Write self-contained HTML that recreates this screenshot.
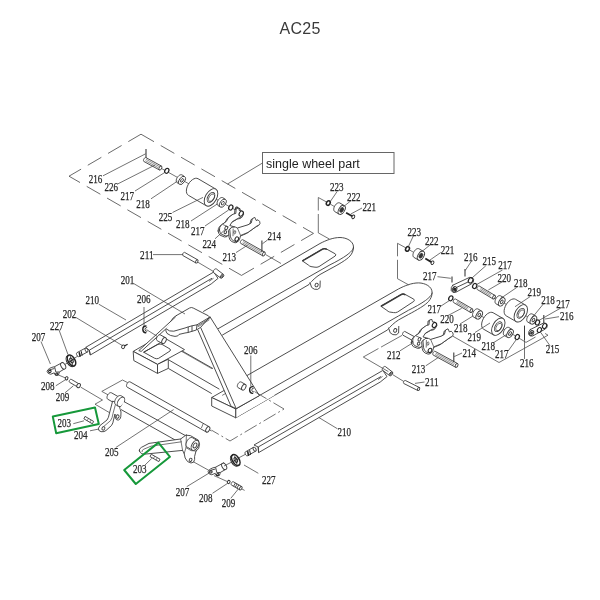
<!DOCTYPE html>
<html><head><meta charset="utf-8"><title>AC25</title>
<style>
html,body{margin:0;padding:0;background:#fff;}
body{width:600px;height:600px;overflow:hidden;position:relative;font-family:"Liberation Sans",sans-serif;}
.title{position:absolute;left:0;top:16px;width:600px;text-align:center;font-size:16px;line-height:20px;color:#333;letter-spacing:0.2px;}
svg{position:absolute;left:0;top:0;will-change:transform;}
svg text{font-family:"Liberation Serif",serif;}
svg text.s{font-family:"Liberation Sans",sans-serif;}
</style></head><body>
<svg width="600" height="600" viewBox="0 0 600 600">
<text class="s" x="300" y="34" font-size="16" text-anchor="middle" fill="#3a3a3a" textLength="41" lengthAdjust="spacing">AC25</text>
<polygon points="85.8,347.3 213.75,272 218,278.4 211.25,283.9 90.3,355 89.3,350.2" fill="#fff" stroke="#3a3a3a" stroke-width="0.9" stroke-linejoin="round"/>
<line x1="89.3" y1="350.2" x2="212" y2="278.23" stroke="#3a3a3a" stroke-width="0.9"/>
<line x1="89.3" y1="350.2" x2="90.3" y2="355" stroke="#3a3a3a" stroke-width="0.9"/>
<line x1="209" y1="281.4" x2="213.6" y2="278.2" stroke="#3a3a3a" stroke-width="0.7"/>
<polyline points="223.4,274.38 216.4,268.98 216.13,268.84 215.81,268.81 215.44,268.87 215.05,269.03 214.66,269.28 214.28,269.6 213.94,269.99 213.66,270.41 213.44,270.86 213.3,271.3 213.24,271.72 213.28,272.09 213.4,272.39 213.6,272.62 220.6,278.02" fill="#fff" stroke="#3a3a3a" stroke-width="0.9" stroke-linejoin="round"/>
<ellipse cx="222" cy="276.2" rx="1.33" ry="2.3" fill="#fff" stroke="#3a3a3a" stroke-width="0.9" transform="rotate(37.65 222 276.2)"/>
<ellipse cx="222" cy="276.2" rx="0.7" ry="1.2" fill="#fff" stroke="#3a3a3a" stroke-width="0.9" transform="rotate(37.65 222 276.2)"/>
<line x1="197.5" y1="262" x2="214" y2="271.8" stroke="#444" stroke-width="0.75"/>
<polyline points="197.69,259.84 184.69,252.44 184.47,252.36 184.21,252.37 183.93,252.45 183.65,252.62 183.37,252.86 183.11,253.15 182.89,253.48 182.72,253.84 182.6,254.21 182.54,254.57 182.54,254.9 182.6,255.19 182.73,255.41 182.91,255.56 195.91,262.96" fill="#fff" stroke="#3a3a3a" stroke-width="0.9" stroke-linejoin="round"/>
<ellipse cx="196.8" cy="261.4" rx="1.04" ry="1.8" fill="#fff" stroke="#3a3a3a" stroke-width="0.9" transform="rotate(29.65 196.8 261.4)"/>
<polyline points="85.45,348.07 76.95,352.67 76.73,352.85 76.57,353.12 76.48,353.47 76.47,353.87 76.53,354.31 76.67,354.76 76.88,355.21 77.14,355.62 77.44,355.99 77.78,356.28 78.12,356.49 78.46,356.61 78.77,356.62 79.05,356.53 87.55,351.93" fill="#fff" stroke="#3a3a3a" stroke-width="0.9" stroke-linejoin="round"/>
<ellipse cx="86.5" cy="350" rx="1.28" ry="2.2" fill="#fff" stroke="#3a3a3a" stroke-width="0.9" transform="rotate(-28.42 86.5 350)"/>
<line x1="79.2" y1="352.2" x2="80.2" y2="356.6" stroke="#222" stroke-width="1.6"/>
<line x1="81.2" y1="351.2" x2="82.2" y2="355.6" stroke="#222" stroke-width="1.0"/>
<polygon points="254,445 382.9,370.4 387,376.6 380.25,382 258.6,452.6 258.2,447" fill="#fff" stroke="#3a3a3a" stroke-width="0.9" stroke-linejoin="round"/>
<line x1="258.2" y1="447" x2="381" y2="376.52" stroke="#3a3a3a" stroke-width="0.9"/>
<line x1="258.2" y1="447" x2="258.6" y2="452.6" stroke="#3a3a3a" stroke-width="0.9"/>
<line x1="378" y1="379.6" x2="382.6" y2="376.4" stroke="#3a3a3a" stroke-width="0.7"/>
<polyline points="392.4,371.98 385.4,366.58 385.13,366.44 384.81,366.41 384.44,366.47 384.05,366.63 383.66,366.88 383.28,367.2 382.94,367.59 382.66,368.01 382.44,368.46 382.3,368.9 382.24,369.32 382.28,369.69 382.4,369.99 382.6,370.22 389.6,375.62" fill="#fff" stroke="#3a3a3a" stroke-width="0.9" stroke-linejoin="round"/>
<ellipse cx="391" cy="373.8" rx="1.33" ry="2.3" fill="#fff" stroke="#3a3a3a" stroke-width="0.9" transform="rotate(37.65 391 373.8)"/>
<ellipse cx="391" cy="373.8" rx="0.7" ry="1.2" fill="#fff" stroke="#3a3a3a" stroke-width="0.9" transform="rotate(37.65 391 373.8)"/>
<polyline points="253.51,447.29 245.41,451.89 245.19,452.08 245.04,452.35 244.96,452.7 244.96,453.1 245.03,453.54 245.18,453.99 245.39,454.43 245.66,454.84 245.97,455.2 246.31,455.49 246.66,455.69 247,455.8 247.31,455.81 247.59,455.71 255.69,451.11" fill="#fff" stroke="#3a3a3a" stroke-width="0.9" stroke-linejoin="round"/>
<ellipse cx="254.6" cy="449.2" rx="1.28" ry="2.2" fill="#fff" stroke="#3a3a3a" stroke-width="0.9" transform="rotate(-29.59 254.6 449.2)"/>
<line x1="247.6" y1="451.2" x2="248.6" y2="455.8" stroke="#222" stroke-width="1.6"/>
<line x1="249.6" y1="450.2" x2="250.6" y2="454.8" stroke="#222" stroke-width="1.0"/>
<g transform="translate(0,0)">
<path d="M203.5,311.4 L320,243.5 C326,240.4 333,237.5 340,237.5 C346.5,237.6 353.4,241 353.5,247 C353.4,250 350,252.6 347,255 C343,258 335,262.4 330,264.8 L320,270.5 L218.3,328.6" fill="#fff" stroke="#3a3a3a" stroke-width="0.9" stroke-linejoin="round" stroke-linecap="round"/>
<path d="M353.5,247.5 C353.4,251 352,253.6 350,256 C347,259.6 338,264.8 330,269 L320,274.5 C316,277 312,280.6 309,284.5 L222.5,335" fill="none" stroke="#3a3a3a" stroke-width="0.9" stroke-linejoin="round" stroke-linecap="round"/>
<path d="M302.6,260.6 L322.5,249 Q324.5,248 326.5,249 L335.2,253.8 Q336.4,254.8 335.2,256 L319,266.6 Q317,267.6 315,267.2 L311,266.6 Q309.5,266.2 308.5,265.2 Z" fill="#fff" stroke="#3a3a3a" stroke-width="0.9" stroke-linejoin="round" stroke-linecap="round"/>
<path d="M302.9,260.6 L322.6,249.2 Q324.5,248.2 326.3,249.2" fill="none" stroke="#3a3a3a" stroke-width="1.5" stroke-linejoin="round" stroke-linecap="round"/>
<path d="M310,282.6 L311.6,287.4 Q314,290 317.6,289.4 L320,287.6 L320.2,281" fill="#fff" stroke="#3a3a3a" stroke-width="0.9" stroke-linejoin="round" stroke-linecap="round"/>
<ellipse cx="316.6" cy="285" rx="1.5" ry="1.9" fill="none" stroke="#3a3a3a" stroke-width="0.9" transform="rotate(30 316.6 285)"/>
</g>
<g transform="translate(78.6,45.4)">
<path d="M166.9,331 L320,243.5 C326,240.4 333,237.5 340,237.5 C346.5,237.6 353.4,241 353.5,247 C353.4,250 350,252.6 347,255 C343,258 335,262.4 330,264.8 L320,270.5 L181,350" fill="#fff" stroke="#3a3a3a" stroke-width="0.9" stroke-linejoin="round" stroke-linecap="round"/>
<path d="M353.5,247.5 C353.4,251 352,253.6 350,256 C347,259.6 338,264.8 330,269 L320,274.5 C316,277 312,280.6 309,284.5 L157.2,372.4" fill="none" stroke="#3a3a3a" stroke-width="0.9" stroke-linejoin="round" stroke-linecap="round"/>
<path d="M302.6,260.6 L322.5,249 Q324.5,248 326.5,249 L335.2,253.8 Q336.4,254.8 335.2,256 L319,266.6 Q317,267.6 315,267.2 L311,266.6 Q309.5,266.2 308.5,265.2 Z" fill="#fff" stroke="#3a3a3a" stroke-width="0.9" stroke-linejoin="round" stroke-linecap="round"/>
<path d="M302.9,260.6 L322.6,249.2 Q324.5,248.2 326.3,249.2" fill="none" stroke="#3a3a3a" stroke-width="1.5" stroke-linejoin="round" stroke-linecap="round"/>
<path d="M310,282.6 L311.6,287.4 Q314,290 317.6,289.4 L320,287.6 L320.2,281" fill="#fff" stroke="#3a3a3a" stroke-width="0.9" stroke-linejoin="round" stroke-linecap="round"/>
<ellipse cx="316.6" cy="285" rx="1.5" ry="1.9" fill="none" stroke="#3a3a3a" stroke-width="0.9" transform="rotate(30 316.6 285)"/>
</g>
<line x1="166.5" y1="342" x2="213" y2="368.6" stroke="#3a3a3a" stroke-width="0.9"/>
<line x1="168.3" y1="343.8" x2="212" y2="368.8" stroke="#3a3a3a" stroke-width="0.6"/>
<line x1="168.5" y1="359.8" x2="219.4" y2="389.2" stroke="#3a3a3a" stroke-width="0.9"/>
<line x1="168.3" y1="368.4" x2="211.7" y2="393.6" stroke="#3a3a3a" stroke-width="0.9"/>
<polygon points="133.2,351.4 160.5,335.6 184.5,349.6 157.5,364.4" fill="#fff" stroke="#3a3a3a" stroke-width="0.9" stroke-linejoin="round"/>
<polygon points="133.2,351.4 157.5,364.4 157.5,373.4 133.8,360.6" fill="#fff" stroke="#3a3a3a" stroke-width="0.9" stroke-linejoin="round"/>
<polygon points="157.5,364.4 168.3,359.2 168.3,368.4 157.5,373.4" fill="#fff" stroke="#3a3a3a" stroke-width="0.9" stroke-linejoin="round"/>
<path d="M144,352 L158,344.4 Q160,343.6 162,344.4 L170,349 Q171,350 170,351 L158.5,358.4 Q156.8,359.2 155,358.4 Z" fill="#fff" stroke="#3a3a3a" stroke-width="0.9" stroke-linejoin="round" stroke-linecap="round"/>
<polygon points="211.7,397.5 235.8,383.8 260,395.6 235.8,409" fill="#fff" stroke="#3a3a3a" stroke-width="0.9" stroke-linejoin="round"/>
<polygon points="211.7,397.5 235.8,409 235.8,417.8 211.7,406" fill="#fff" stroke="#3a3a3a" stroke-width="0.9" stroke-linejoin="round"/>
<polygon points="235.8,409 259.6,395.4 275,395 235.8,417.8" fill="#fff" stroke="#3a3a3a" stroke-width="0" stroke-linejoin="round"/>
<line x1="235.8" y1="409" x2="259.6" y2="395.4" stroke="#3a3a3a" stroke-width="0.9"/>
<line x1="235.8" y1="409" x2="235.8" y2="417.8" stroke="#3a3a3a" stroke-width="0.9"/>
<path d="M222.5,395.2 L226.4,393 L231.6,403.6" fill="none" stroke="#3a3a3a" stroke-width="0.7" stroke-linejoin="round" stroke-linecap="round"/>
<polygon points="210,316.8 259.4,395.6 236.2,408.6 231,406.2 197.5,329.2 200.6,327.4" fill="#fff" stroke="#3a3a3a" stroke-width="0.9" stroke-linejoin="round"/>
<line x1="200.6" y1="327.4" x2="236.2" y2="408.6" stroke="#3a3a3a" stroke-width="0.9"/>
<polyline points="245.39,384.42 241.19,382.02 240.79,381.89 240.33,381.9 239.84,382.05 239.33,382.35 238.84,382.76 238.38,383.28 237.99,383.88 237.68,384.52 237.46,385.18 237.35,385.81 237.35,386.4 237.47,386.9 237.69,387.3 238.01,387.58 242.21,389.98" fill="#fff" stroke="#3a3a3a" stroke-width="0.9" stroke-linejoin="round"/>
<ellipse cx="243.8" cy="387.2" rx="1.86" ry="3.2" fill="#fff" stroke="#3a3a3a" stroke-width="0.9" transform="rotate(29.74 243.8 387.2)"/>
<path d="M176.3,315.6 L189.6,308 Q191.4,307 193.2,308 L208.4,315.8 Q210,316.8 208.6,317.8 L197,324.8 L196.4,330 L188,332.5 L185,333 L179,334.4 Q178.5,336.4 175,336.4 Q170,336 167,333.4 Q165,331 166.3,328 L171,321 Q173,317 176.3,315.6 Z" fill="#fff" stroke="#3a3a3a" stroke-width="0.9" stroke-linejoin="round" stroke-linecap="round"/>
<line x1="209.6" y1="318.4" x2="197.4" y2="326" stroke="#3a3a3a" stroke-width="0.7"/>
<line x1="209.4" y1="319.8" x2="198" y2="326.8" stroke="#3a3a3a" stroke-width="0.6"/>
<line x1="210" y1="316.8" x2="210" y2="318.4" stroke="#3a3a3a" stroke-width="0.7"/>
<path d="M166.9,329.4 Q169,331.6 173.8,331.2 L185,328 L188.2,326.9 L192,325.8 L197,324.8" fill="none" stroke="#3a3a3a" stroke-width="0.9" stroke-linejoin="round" stroke-linecap="round"/>
<line x1="188.2" y1="326.9" x2="188.2" y2="332.5" stroke="#3a3a3a" stroke-width="0.9"/>
<line x1="192" y1="325.8" x2="192" y2="331.4" stroke="#3a3a3a" stroke-width="0.9"/>
<polyline points="175.6,316.9 138.8,350.6 141.2,351.4 166.4,328.4" fill="#fff" stroke="#3a3a3a" stroke-width="0.9" stroke-linejoin="round"/>
<polyline points="165.56,337.69 160.36,334.89 159.95,334.77 159.48,334.79 158.97,334.96 158.46,335.28 157.96,335.72 157.51,336.27 157.11,336.89 156.81,337.56 156.6,338.24 156.51,338.9 156.53,339.51 156.66,340.02 156.9,340.43 157.24,340.71 162.44,343.51" fill="#fff" stroke="#3a3a3a" stroke-width="0.9" stroke-linejoin="round"/>
<ellipse cx="164" cy="340.6" rx="1.91" ry="3.3" fill="#fff" stroke="#3a3a3a" stroke-width="0.9" transform="rotate(28.3 164 340.6)"/>
<line x1="160.5" y1="342.6" x2="143.5" y2="352.4" stroke="#3a3a3a" stroke-width="0.9"/>
<line x1="146.5" y1="329.6" x2="157" y2="336.2" stroke="#444" stroke-width="0.75"/>
<path d="M146,326 Q142.8,326 142.8,329.4 Q143,332.6 145.8,332.8" fill="none" stroke="#222" stroke-width="1.4" stroke-linejoin="round" stroke-linecap="round"/>
<path d="M146.8,327.4 Q144.8,327.6 145,329.6 Q145.2,331.4 146.8,331.4" fill="none" stroke="#222" stroke-width="0.8" stroke-linejoin="round" stroke-linecap="round"/>
<line x1="144" y1="307" x2="144" y2="326" stroke="#444" stroke-width="0.75"/>
<path d="M252.8,386.6 Q249.6,386.6 249.6,390 Q249.8,393.2 252.6,393.4" fill="none" stroke="#222" stroke-width="1.4" stroke-linejoin="round" stroke-linecap="round"/>
<path d="M253.6,388 Q251.6,388.2 251.8,390.2 Q252,392 253.6,392" fill="none" stroke="#222" stroke-width="0.8" stroke-linejoin="round" stroke-linecap="round"/>
<line x1="250.8" y1="355.5" x2="250.8" y2="386" stroke="#444" stroke-width="0.75"/>
<polyline points="254.5,391.6 284,409 230,441 211.6,430.2" fill="none" stroke="#444" stroke-width="0.75" stroke-linejoin="round" stroke-dasharray="14 3 2 3"/>
<ellipse cx="123.2" cy="346.8" rx="1.5" ry="1.9" fill="#fff" stroke="#3a3a3a" stroke-width="0.9" transform="rotate(30 123.2 346.8)"/>
<line x1="124.4" y1="346" x2="127.6" y2="344.2" stroke="#222" stroke-width="1.2"/>
<line x1="318.3" y1="197.5" x2="327.5" y2="202.5" stroke="#444" stroke-width="0.75"/>
<line x1="318.3" y1="197.5" x2="318.3" y2="210.5" stroke="#444" stroke-width="0.75"/>
<line x1="318.3" y1="214" x2="318.3" y2="232.9" stroke="#444" stroke-width="0.75"/>
<line x1="318.3" y1="232.9" x2="329.5" y2="239.1" stroke="#444" stroke-width="0.75"/>
<ellipse cx="328.3" cy="203.1" rx="1.78" ry="2.4" fill="#fff" stroke="#222" stroke-width="1.5" transform="rotate(30 328.3 203.1)"/>
<line x1="330.3" y1="204.1" x2="334.3" y2="206.5" stroke="#444" stroke-width="0.75"/>
<polyline points="344.24,205.6 339.84,203 339.22,202.78 338.51,202.78 337.73,203.01 336.93,203.46 336.15,204.1 335.43,204.9 334.8,205.82 334.3,206.82 333.95,207.84 333.76,208.83 333.75,209.75 333.92,210.54 334.26,211.17 334.76,211.6 339.16,214.2" fill="#fff" stroke="#3a3a3a" stroke-width="0.9" stroke-linejoin="round"/>
<ellipse cx="341.7" cy="209.9" rx="2.9" ry="5" fill="#fff" stroke="#3a3a3a" stroke-width="0.9" transform="rotate(30.58 341.7 209.9)"/>
<ellipse cx="341.7" cy="209.9" rx="1.6" ry="2.6" fill="#333" stroke="#3a3a3a" stroke-width="0.8" transform="rotate(30 341.7 209.9)"/>
<line x1="346.1" y1="212.7" x2="352.3" y2="216.3" stroke="#222" stroke-width="1.8"/>
<ellipse cx="353.3" cy="216.9" rx="1.3" ry="1.9" fill="#fff" stroke="#222" stroke-width="0.9" transform="rotate(30 353.3 216.9)"/>
<line x1="397.5" y1="243.3" x2="406.7" y2="248.3" stroke="#444" stroke-width="0.75"/>
<line x1="397.5" y1="243.3" x2="397.5" y2="256.3" stroke="#444" stroke-width="0.75"/>
<line x1="397.5" y1="259.8" x2="397.5" y2="278.7" stroke="#444" stroke-width="0.75"/>
<line x1="397.5" y1="278.7" x2="408.7" y2="284.9" stroke="#444" stroke-width="0.75"/>
<ellipse cx="407.5" cy="248.9" rx="1.78" ry="2.4" fill="#fff" stroke="#222" stroke-width="1.5" transform="rotate(30 407.5 248.9)"/>
<line x1="409.5" y1="249.9" x2="413.5" y2="252.3" stroke="#444" stroke-width="0.75"/>
<polyline points="423.44,251.4 419.04,248.8 418.42,248.58 417.71,248.58 416.93,248.81 416.13,249.26 415.35,249.9 414.63,250.7 414,251.62 413.5,252.62 413.15,253.64 412.96,254.63 412.95,255.55 413.12,256.34 413.46,256.97 413.96,257.4 418.36,260" fill="#fff" stroke="#3a3a3a" stroke-width="0.9" stroke-linejoin="round"/>
<ellipse cx="420.9" cy="255.7" rx="2.9" ry="5" fill="#fff" stroke="#3a3a3a" stroke-width="0.9" transform="rotate(30.58 420.9 255.7)"/>
<ellipse cx="420.9" cy="255.7" rx="1.6" ry="2.6" fill="#333" stroke="#3a3a3a" stroke-width="0.8" transform="rotate(30 420.9 255.7)"/>
<line x1="425.3" y1="258.5" x2="431.5" y2="262.1" stroke="#222" stroke-width="1.8"/>
<ellipse cx="432.5" cy="262.7" rx="1.3" ry="1.9" fill="#fff" stroke="#222" stroke-width="0.9" transform="rotate(30 432.5 262.7)"/>
<polyline points="452.5,336 499,362.5 548,335.2 543.5,332.5" fill="none" stroke="#444" stroke-width="0.75" stroke-linejoin="round" stroke-dasharray="83 0 30 3 200"/>
<polyline points="518.5,337.8 526,342.4 535.5,337" fill="none" stroke="#444" stroke-width="0.75" stroke-linejoin="round"/>
<line x1="476" y1="286.8" x2="538" y2="322.8" stroke="#444" stroke-width="0.75"/>
<ellipse cx="474.7" cy="286" rx="1.92" ry="2.6" fill="#fff" stroke="#222" stroke-width="1.2" transform="rotate(30 474.7 286)"/>
<polyline points="495.03,295.48 479.33,286.08 479.08,285.99 478.79,286 478.48,286.09 478.16,286.26 477.85,286.52 477.56,286.84 477.3,287.2 477.1,287.6 476.96,288.01 476.88,288.4 476.88,288.77 476.94,289.09 477.08,289.34 477.27,289.52 492.97,298.92" fill="#fff" stroke="#3a3a3a" stroke-width="0.9" stroke-linejoin="round"/>
<ellipse cx="494" cy="297.2" rx="1.16" ry="2" fill="#fff" stroke="#3a3a3a" stroke-width="0.9" transform="rotate(30.91 494 297.2)"/>
<line x1="480.54" y1="288.33" x2="491.22" y2="294.72" stroke="#3a3a3a" stroke-width="0.55"/>
<line x1="479.82" y1="289.53" x2="490.5" y2="295.92" stroke="#3a3a3a" stroke-width="0.55"/>
<polyline points="504.03,297.82 500.57,295.82 500,295.62 499.34,295.63 498.63,295.85 497.9,296.27 497.18,296.87 496.53,297.61 495.96,298.47 495.5,299.39 495.19,300.33 495.03,301.24 495.03,302.08 495.19,302.81 495.51,303.39 495.97,303.78 499.43,305.78" fill="#fff" stroke="#3a3a3a" stroke-width="0.9" stroke-linejoin="round"/>
<ellipse cx="501.73" cy="301.8" rx="2.67" ry="4.6" fill="#fff" stroke="#3a3a3a" stroke-width="0.9" transform="rotate(30 501.73 301.8)"/>
<ellipse cx="501.73" cy="301.8" rx="1.16" ry="2" fill="#fff" stroke="#3a3a3a" stroke-width="0.9" transform="rotate(30 501.73 301.8)"/>
<polyline points="525.55,305.07 515.59,299.32 514.41,298.92 513.05,298.94 511.58,299.4 510.07,300.27 508.6,301.5 507.25,303.03 506.07,304.79 505.13,306.69 504.48,308.64 504.15,310.53 504.15,312.26 504.49,313.77 505.15,314.96 506.09,315.78 516.05,321.53" fill="#fff" stroke="#3a3a3a" stroke-width="0.9" stroke-linejoin="round"/>
<ellipse cx="520.8" cy="313.3" rx="5.51" ry="9.5" fill="#fff" stroke="#3a3a3a" stroke-width="0.9" transform="rotate(30 520.8 313.3)"/>
<ellipse cx="520.8" cy="313.3" rx="3.13" ry="5.4" fill="#fff" stroke="#3a3a3a" stroke-width="0.9" transform="rotate(30 520.8 313.3)"/>
<ellipse cx="521.3" cy="313.6" rx="2.38" ry="4.1" fill="none" stroke="#3a3a3a" stroke-width="0.7" transform="rotate(30 521.3 313.6)"/>
<polyline points="535.73,316.02 532.27,314.02 531.7,313.82 531.04,313.83 530.33,314.05 529.6,314.47 528.88,315.07 528.23,315.81 527.66,316.67 527.2,317.59 526.89,318.53 526.73,319.44 526.73,320.28 526.89,321.01 527.21,321.59 527.67,321.98 531.13,323.98" fill="#fff" stroke="#3a3a3a" stroke-width="0.9" stroke-linejoin="round"/>
<ellipse cx="533.43" cy="320" rx="2.67" ry="4.6" fill="#fff" stroke="#3a3a3a" stroke-width="0.9" transform="rotate(30 533.43 320)"/>
<ellipse cx="533.43" cy="320" rx="1.16" ry="2" fill="#fff" stroke="#3a3a3a" stroke-width="0.9" transform="rotate(30 533.43 320)"/>
<ellipse cx="537.5" cy="322.5" rx="1.92" ry="2.6" fill="#fff" stroke="#222" stroke-width="1.2" transform="rotate(30 537.5 322.5)"/>
<line x1="452" y1="299" x2="518" y2="337.4" stroke="#444" stroke-width="0.75"/>
<ellipse cx="450.8" cy="298.3" rx="1.92" ry="2.6" fill="#fff" stroke="#222" stroke-width="1.2" transform="rotate(30 450.8 298.3)"/>
<polyline points="472.41,308.87 455.61,299.07 455.36,298.99 455.07,298.99 454.76,299.08 454.44,299.27 454.13,299.52 453.85,299.85 453.6,300.22 453.4,300.61 453.26,301.02 453.19,301.42 453.19,301.79 453.26,302.1 453.39,302.35 453.59,302.53 470.39,312.33" fill="#fff" stroke="#3a3a3a" stroke-width="0.9" stroke-linejoin="round"/>
<ellipse cx="471.4" cy="310.6" rx="1.16" ry="2" fill="#fff" stroke="#3a3a3a" stroke-width="0.9" transform="rotate(30.26 471.4 310.6)"/>
<line x1="456.97" y1="301.37" x2="468.39" y2="308.04" stroke="#3a3a3a" stroke-width="0.55"/>
<line x1="456.26" y1="302.58" x2="467.69" y2="309.24" stroke="#3a3a3a" stroke-width="0.55"/>
<polyline points="481.53,311.02 478.07,309.02 477.5,308.82 476.84,308.83 476.13,309.05 475.4,309.47 474.68,310.07 474.03,310.81 473.46,311.67 473,312.59 472.69,313.53 472.53,314.44 472.53,315.28 472.69,316.01 473.01,316.59 473.47,316.98 476.93,318.98" fill="#fff" stroke="#3a3a3a" stroke-width="0.9" stroke-linejoin="round"/>
<ellipse cx="479.23" cy="315" rx="2.67" ry="4.6" fill="#fff" stroke="#3a3a3a" stroke-width="0.9" transform="rotate(30 479.23 315)"/>
<ellipse cx="479.23" cy="315" rx="1.16" ry="2" fill="#fff" stroke="#3a3a3a" stroke-width="0.9" transform="rotate(30 479.23 315)"/>
<polyline points="503.05,318.47 493.09,312.72 491.91,312.32 490.55,312.34 489.08,312.8 487.57,313.67 486.1,314.9 484.75,316.43 483.57,318.19 482.63,320.09 481.98,322.04 481.65,323.93 481.65,325.66 481.99,327.17 482.65,328.36 483.59,329.18 493.55,334.93" fill="#fff" stroke="#3a3a3a" stroke-width="0.9" stroke-linejoin="round"/>
<ellipse cx="498.3" cy="326.7" rx="5.51" ry="9.5" fill="#fff" stroke="#3a3a3a" stroke-width="0.9" transform="rotate(30 498.3 326.7)"/>
<ellipse cx="498.3" cy="326.7" rx="3.13" ry="5.4" fill="#fff" stroke="#3a3a3a" stroke-width="0.9" transform="rotate(30 498.3 326.7)"/>
<ellipse cx="498.8" cy="327" rx="2.38" ry="4.1" fill="none" stroke="#3a3a3a" stroke-width="0.7" transform="rotate(30 498.8 327)"/>
<polyline points="512.33,329.52 508.87,327.52 508.3,327.32 507.64,327.33 506.93,327.55 506.2,327.97 505.48,328.57 504.83,329.31 504.26,330.17 503.8,331.09 503.49,332.03 503.33,332.94 503.33,333.78 503.49,334.51 503.81,335.09 504.27,335.48 507.73,337.48" fill="#fff" stroke="#3a3a3a" stroke-width="0.9" stroke-linejoin="round"/>
<ellipse cx="510.03" cy="333.5" rx="2.67" ry="4.6" fill="#fff" stroke="#3a3a3a" stroke-width="0.9" transform="rotate(30 510.03 333.5)"/>
<ellipse cx="510.03" cy="333.5" rx="1.16" ry="2" fill="#fff" stroke="#3a3a3a" stroke-width="0.9" transform="rotate(30 510.03 333.5)"/>
<ellipse cx="517.3" cy="337" rx="1.92" ry="2.6" fill="#fff" stroke="#222" stroke-width="1.2" transform="rotate(30 517.3 337)"/>
<path d="M452.8,285.2 L469.5,277.4 Q472.5,276.8 473.6,279.4 Q474,282.4 471.6,283.8 L455.6,292.4 Q452.4,293.4 451.2,290.4 Q450.6,287 452.8,285.2 Z" fill="#fff" stroke="#3a3a3a" stroke-width="0.9" stroke-linejoin="round" stroke-linecap="round"/>
<ellipse cx="454.6" cy="289.2" rx="2.1" ry="2.8" fill="#fff" stroke="#3a3a3a" stroke-width="0.9" transform="rotate(30 454.6 289.2)"/>
<ellipse cx="454.6" cy="289.2" rx="0.9" ry="1.3" fill="#333" stroke="#3a3a3a" stroke-width="0.9" transform="rotate(30 454.6 289.2)"/>
<ellipse cx="470.6" cy="280.4" rx="2.1" ry="2.8" fill="#fff" stroke="#222" stroke-width="1.1" transform="rotate(30 470.6 280.4)"/>
<line x1="457" y1="287.2" x2="468" y2="282" stroke="#3a3a3a" stroke-width="0.9"/>
<line x1="453.4" y1="287.4" x2="456.4" y2="291.4" stroke="#222" stroke-width="1.1"/>
<line x1="452.6" y1="290.6" x2="456.8" y2="287.6" stroke="#222" stroke-width="0.9"/>
<path d="M530.2,329.6 L543.6,323 Q546.4,322.6 547.2,325 Q547.6,327.6 545.4,329 L532.6,336 Q529.6,336.8 528.6,334.2 Q528.2,331.2 530.2,329.6 Z" fill="#fff" stroke="#3a3a3a" stroke-width="0.9" stroke-linejoin="round" stroke-linecap="round"/>
<ellipse cx="531.6" cy="333" rx="1.9" ry="2.6" fill="#fff" stroke="#3a3a3a" stroke-width="0.9" transform="rotate(30 531.6 333)"/>
<ellipse cx="531.6" cy="333" rx="0.8" ry="1.2" fill="#333" stroke="#3a3a3a" stroke-width="0.9" transform="rotate(30 531.6 333)"/>
<ellipse cx="539.4" cy="330" rx="1.9" ry="2.6" fill="#fff" stroke="#222" stroke-width="1.1" transform="rotate(30 539.4 330)"/>
<ellipse cx="544.6" cy="326" rx="1.9" ry="2.6" fill="#fff" stroke="#222" stroke-width="1.1" transform="rotate(30 544.6 326)"/>
<line x1="465" y1="269" x2="465" y2="276.4" stroke="#3a3a3a" stroke-width="1.1"/>
<line x1="543.8" y1="315" x2="543.8" y2="323.4" stroke="#3a3a3a" stroke-width="1.1"/>
<line x1="524.5" y1="325.6" x2="524.5" y2="340" stroke="#3a3a3a" stroke-width="1.0"/>
<line x1="452" y1="276.6" x2="452" y2="282.6" stroke="#3a3a3a" stroke-width="1.1"/>
<polyline points="415.61,337.36 405.01,331.56 404.74,331.47 404.44,331.49 404.12,331.6 403.79,331.79 403.47,332.07 403.18,332.42 402.93,332.82 402.73,333.24 402.6,333.67 402.54,334.09 402.55,334.48 402.63,334.81 402.78,335.07 402.99,335.24 413.59,341.04" fill="#fff" stroke="#3a3a3a" stroke-width="0.9" stroke-linejoin="round"/>
<g transform="translate(-1.3,1)">
<path d="M412.6,341.4 Q412.4,338.4 414.4,336.6 L415.6,335.6 L419.4,333 L421.9,328.8 L426.2,325.6 L429,324.8 L429.4,320 L431.9,319.4 L432.5,321.9 Q436.6,321.6 436.9,325.6 L435,328.8 L431.9,329.4 L425.6,333 L423,336.9 L428,338.4 L423.4,340.6 L423,345 Q421.8,347.8 419,347.4 L414.6,345.6 Q412.8,344 412.6,341.4 Z" fill="#fff" stroke="#3a3a3a" stroke-width="0.9" stroke-linejoin="round" stroke-linecap="round"/>
</g>
<path d="M412.6,341.4 Q412.4,338.4 414.4,336.6 L415.6,335.6 L419.4,333 L421.9,328.8 L426.2,325.6 L429,324.8 L429.4,320 L431.9,319.4 L432.5,321.9 Q436.6,321.6 436.9,325.6 L435,328.8 L431.9,329.4 L425.6,333 L423,336.9 L428,338.4 L423.4,340.6 L423,345 Q421.8,347.8 419,347.4 L414.6,345.6 Q412.8,344 412.6,341.4 Z" fill="#fff" stroke="#3a3a3a" stroke-width="0.9" stroke-linejoin="round" stroke-linecap="round"/>
<ellipse cx="434.4" cy="325" rx="1.9" ry="2.7" fill="#fff" stroke="#222" stroke-width="1.1" transform="rotate(30 434.4 325)"/>
<ellipse cx="419.4" cy="339.4" rx="1.3" ry="1.8" fill="none" stroke="#3a3a3a" stroke-width="0.9" transform="rotate(30 419.4 339.4)"/>
<ellipse cx="418.6" cy="343.6" rx="1.2" ry="1.6" fill="none" stroke="#3a3a3a" stroke-width="0.9" transform="rotate(30 418.6 343.6)"/>
<line x1="415.8" y1="335.8" x2="422" y2="338.6" stroke="#3a3a3a" stroke-width="0.7"/>
<g transform="translate(-1.3,1)">
<path d="M423.2,340.6 L425,338.6 L428.4,338.4 L430.6,339.4 L441.2,336.2 L444.4,334.4 L445.6,330 L448,328.8 L449.4,331.9 L451.2,331.2 Q453.4,332.6 453.2,334.8 L452.5,336.2 L450,337.5 L441.2,343.8 L433.8,346.9 L432.8,350.6 Q432,353.4 429.6,353.2 L426.4,352 Q423.8,350.6 423.6,348 Z" fill="#fff" stroke="#3a3a3a" stroke-width="0.9" stroke-linejoin="round" stroke-linecap="round"/>
</g>
<path d="M423.2,340.6 L425,338.6 L428.4,338.4 L430.6,339.4 L441.2,336.2 L444.4,334.4 L445.6,330 L448,328.8 L449.4,331.9 L451.2,331.2 Q453.4,332.6 453.2,334.8 L452.5,336.2 L450,337.5 L441.2,343.8 L433.8,346.9 L432.8,350.6 Q432,353.4 429.6,353.2 L426.4,352 Q423.8,350.6 423.6,348 Z" fill="#fff" stroke="#3a3a3a" stroke-width="0.9" stroke-linejoin="round" stroke-linecap="round"/>
<ellipse cx="430" cy="350.4" rx="1.7" ry="2.2" fill="none" stroke="#222" stroke-width="1.0" transform="rotate(30 430 350.4)"/>
<ellipse cx="428" cy="343.6" rx="0.9" ry="1.7" fill="none" stroke="#3a3a3a" stroke-width="0.7" transform="rotate(10 428 343.6)"/>
<line x1="430.6" y1="339.4" x2="433.8" y2="346.9" stroke="#3a3a3a" stroke-width="0.7"/>
<line x1="426.4" y1="340" x2="426.2" y2="347.6" stroke="#3a3a3a" stroke-width="0.7"/>
<polyline points="457.6,363.56 435.2,351.36 434.94,351.27 434.64,351.29 434.32,351.39 433.99,351.59 433.67,351.87 433.38,352.22 433.13,352.62 432.93,353.04 432.8,353.48 432.74,353.89 432.75,354.28 432.83,354.61 432.98,354.87 433.2,355.04 455.6,367.24" fill="#fff" stroke="#3a3a3a" stroke-width="0.9" stroke-linejoin="round"/>
<ellipse cx="456.6" cy="365.4" rx="1.22" ry="2.1" fill="#fff" stroke="#3a3a3a" stroke-width="0.9" transform="rotate(28.57 456.6 365.4)"/>
<line x1="435.67" y1="353.16" x2="454.71" y2="363.53" stroke="#3a3a3a" stroke-width="0.55"/>
<line x1="434.97" y1="354.46" x2="454.01" y2="364.83" stroke="#3a3a3a" stroke-width="0.55"/>
<line x1="453.8" y1="352.4" x2="453.8" y2="362" stroke="#3a3a3a" stroke-width="1.1"/>
<line x1="392.6" y1="374.6" x2="404" y2="381.6" stroke="#444" stroke-width="0.75"/>
<polyline points="419.36,387.48 405.36,380.48 405.14,380.42 404.9,380.44 404.64,380.54 404.38,380.71 404.14,380.94 403.91,381.23 403.72,381.56 403.57,381.91 403.48,382.26 403.44,382.6 403.46,382.91 403.53,383.18 403.66,383.38 403.84,383.52 417.84,390.52" fill="#fff" stroke="#3a3a3a" stroke-width="0.9" stroke-linejoin="round"/>
<ellipse cx="418.6" cy="389" rx="0.99" ry="1.7" fill="#fff" stroke="#3a3a3a" stroke-width="0.9" transform="rotate(26.57 418.6 389)"/>
<polyline points="402,335.4 363.3,357 388.4,371.6" fill="none" stroke="#444" stroke-width="0.75" stroke-linejoin="round" stroke-dasharray="24 3 200"/>
<line x1="69" y1="176.2" x2="141" y2="134.2" stroke="#444" stroke-width="0.8" stroke-dasharray="15.7 7.75" stroke-dashoffset="1.7"/>
<line x1="141" y1="134.2" x2="313.5" y2="233.4" stroke="#444" stroke-width="0.8" stroke-dasharray="15.7 7.75" stroke-dashoffset="0.7"/>
<line x1="69" y1="176.2" x2="241.5" y2="275.4" stroke="#444" stroke-width="0.8" stroke-dasharray="15.7 7.75" stroke-dashoffset="3.0"/>
<line x1="241.5" y1="275.4" x2="313.5" y2="233.4" stroke="#444" stroke-width="0.8" stroke-dasharray="15.7 7.75" stroke-dashoffset="1.3"/>
<rect x="262.5" y="152.5" width="131.5" height="21" fill="#fff" stroke="#666" stroke-width="1"/>
<text class="s" x="266" y="167.6" font-size="12.5" fill="#222">single wheel part</text>
<line x1="262.5" y1="163" x2="227.5" y2="184" stroke="#444" stroke-width="0.75"/>
<line x1="161" y1="168.2" x2="240" y2="212.5" stroke="#444" stroke-width="0.75"/>
<line x1="146" y1="149" x2="146" y2="158" stroke="#3a3a3a" stroke-width="1.1"/>
<polyline points="161.45,166.07 146.05,157.67 145.78,157.58 145.46,157.59 145.13,157.71 144.78,157.92 144.45,158.21 144.14,158.57 143.88,158.99 143.67,159.43 143.53,159.89 143.47,160.33 143.48,160.73 143.56,161.07 143.72,161.35 143.95,161.53 159.35,169.93" fill="#fff" stroke="#3a3a3a" stroke-width="0.9" stroke-linejoin="round"/>
<ellipse cx="160.4" cy="168" rx="1.28" ry="2.2" fill="#fff" stroke="#3a3a3a" stroke-width="0.9" transform="rotate(28.61 160.4 168)"/>
<line x1="146.14" y1="159.34" x2="159.23" y2="166.48" stroke="#3a3a3a" stroke-width="0.55"/>
<line x1="145.4" y1="160.7" x2="158.49" y2="167.84" stroke="#3a3a3a" stroke-width="0.55"/>
<ellipse cx="166.8" cy="170.8" rx="1.92" ry="2.6" fill="#fff" stroke="#222" stroke-width="1.2" transform="rotate(30 166.8 170.8)"/>
<polyline points="184.55,176.57 182.15,174.97 181.59,174.74 180.94,174.71 180.21,174.88 179.46,175.26 178.71,175.81 178,176.51 177.38,177.32 176.87,178.21 176.49,179.13 176.27,180.03 176.22,180.87 176.34,181.61 176.62,182.2 177.05,182.63 179.45,184.23" fill="#fff" stroke="#3a3a3a" stroke-width="0.9" stroke-linejoin="round"/>
<ellipse cx="182" cy="180.4" rx="2.67" ry="4.6" fill="#fff" stroke="#3a3a3a" stroke-width="0.9" transform="rotate(33.69 182 180.4)"/>
<ellipse cx="182" cy="180.4" rx="1.16" ry="2" fill="#fff" stroke="#3a3a3a" stroke-width="0.9" transform="rotate(33.69 182 180.4)"/>
<polyline points="215.84,189.11 198.04,178.71 196.85,178.29 195.48,178.31 193.99,178.77 192.46,179.64 190.97,180.87 189.59,182.42 188.39,184.19 187.44,186.11 186.77,188.07 186.42,189.97 186.42,191.73 186.75,193.25 187.41,194.46 188.36,195.29 206.16,205.69" fill="#fff" stroke="#3a3a3a" stroke-width="0.9" stroke-linejoin="round"/>
<ellipse cx="211" cy="197.4" rx="5.57" ry="9.6" fill="#fff" stroke="#3a3a3a" stroke-width="0.9" transform="rotate(30.3 211 197.4)"/>
<ellipse cx="211" cy="197.4" rx="3.13" ry="5.4" fill="#fff" stroke="#3a3a3a" stroke-width="0.9" transform="rotate(30.3 211 197.4)"/>
<ellipse cx="211.5" cy="197.7" rx="2.38" ry="4.1" fill="none" stroke="#3a3a3a" stroke-width="0.7" transform="rotate(30 211.5 197.7)"/>
<polyline points="225.35,199.37 222.95,197.77 222.39,197.54 221.74,197.51 221.01,197.68 220.26,198.06 219.51,198.61 218.8,199.31 218.18,200.12 217.67,201.01 217.29,201.93 217.07,202.83 217.02,203.67 217.14,204.41 217.42,205 217.85,205.43 220.25,207.03" fill="#fff" stroke="#3a3a3a" stroke-width="0.9" stroke-linejoin="round"/>
<ellipse cx="222.8" cy="203.2" rx="2.67" ry="4.6" fill="#fff" stroke="#3a3a3a" stroke-width="0.9" transform="rotate(33.69 222.8 203.2)"/>
<ellipse cx="222.8" cy="203.2" rx="1.16" ry="2" fill="#fff" stroke="#3a3a3a" stroke-width="0.9" transform="rotate(33.69 222.8 203.2)"/>
<ellipse cx="230.8" cy="207.5" rx="1.92" ry="2.6" fill="#fff" stroke="#222" stroke-width="1.2" transform="rotate(30 230.8 207.5)"/>
<ellipse cx="236.6" cy="208.8" rx="1.33" ry="1.8" fill="#fff" stroke="#222" stroke-width="1" transform="rotate(30 236.6 208.8)"/>
<ellipse cx="238.6" cy="210" rx="1.33" ry="1.8" fill="#fff" stroke="#222" stroke-width="1" transform="rotate(30 238.6 210)"/>
<g transform="translate(-193.2,-111.4)">
<g transform="translate(-1.3,1)">
<path d="M412.6,341.4 Q412.4,338.4 414.4,336.6 L415.6,335.6 L419.4,333 L421.9,328.8 L426.2,325.6 L429,324.8 L429.4,320 L431.9,319.4 L432.5,321.9 Q436.6,321.6 436.9,325.6 L435,328.8 L431.9,329.4 L425.6,333 L423,336.9 L428,338.4 L423.4,340.6 L423,345 Q421.8,347.8 419,347.4 L414.6,345.6 Q412.8,344 412.6,341.4 Z" fill="#fff" stroke="#3a3a3a" stroke-width="0.9" stroke-linejoin="round" stroke-linecap="round"/>
</g>
<path d="M412.6,341.4 Q412.4,338.4 414.4,336.6 L415.6,335.6 L419.4,333 L421.9,328.8 L426.2,325.6 L429,324.8 L429.4,320 L431.9,319.4 L432.5,321.9 Q436.6,321.6 436.9,325.6 L435,328.8 L431.9,329.4 L425.6,333 L423,336.9 L428,338.4 L423.4,340.6 L423,345 Q421.8,347.8 419,347.4 L414.6,345.6 Q412.8,344 412.6,341.4 Z" fill="#fff" stroke="#3a3a3a" stroke-width="0.9" stroke-linejoin="round" stroke-linecap="round"/>
<ellipse cx="434.4" cy="325" rx="1.9" ry="2.7" fill="#fff" stroke="#222" stroke-width="1.1" transform="rotate(30 434.4 325)"/>
<ellipse cx="419.4" cy="339.4" rx="1.3" ry="1.8" fill="none" stroke="#3a3a3a" stroke-width="0.9" transform="rotate(30 419.4 339.4)"/>
<ellipse cx="418.6" cy="343.6" rx="1.2" ry="1.6" fill="none" stroke="#3a3a3a" stroke-width="0.9" transform="rotate(30 418.6 343.6)"/>
<line x1="415.8" y1="335.8" x2="422" y2="338.6" stroke="#3a3a3a" stroke-width="0.7"/>
<g transform="translate(-1.3,1)">
<path d="M423.2,340.6 L425,338.6 L428.4,338.4 L430.6,339.4 L441.2,336.2 L444.4,334.4 L445.6,330 L448,328.8 L449.4,331.9 L451.2,331.2 Q453.4,332.6 453.2,334.8 L452.5,336.2 L450,337.5 L441.2,343.8 L433.8,346.9 L432.8,350.6 Q432,353.4 429.6,353.2 L426.4,352 Q423.8,350.6 423.6,348 Z" fill="#fff" stroke="#3a3a3a" stroke-width="0.9" stroke-linejoin="round" stroke-linecap="round"/>
</g>
<path d="M423.2,340.6 L425,338.6 L428.4,338.4 L430.6,339.4 L441.2,336.2 L444.4,334.4 L445.6,330 L448,328.8 L449.4,331.9 L451.2,331.2 Q453.4,332.6 453.2,334.8 L452.5,336.2 L450,337.5 L441.2,343.8 L433.8,346.9 L432.8,350.6 Q432,353.4 429.6,353.2 L426.4,352 Q423.8,350.6 423.6,348 Z" fill="#fff" stroke="#3a3a3a" stroke-width="0.9" stroke-linejoin="round" stroke-linecap="round"/>
<ellipse cx="430" cy="350.4" rx="1.7" ry="2.2" fill="none" stroke="#222" stroke-width="1.0" transform="rotate(30 430 350.4)"/>
<ellipse cx="428" cy="343.6" rx="0.9" ry="1.7" fill="none" stroke="#3a3a3a" stroke-width="0.7" transform="rotate(10 428 343.6)"/>
<line x1="430.6" y1="339.4" x2="433.8" y2="346.9" stroke="#3a3a3a" stroke-width="0.7"/>
<line x1="426.4" y1="340" x2="426.2" y2="347.6" stroke="#3a3a3a" stroke-width="0.7"/>
</g>
<polyline points="264.83,252.17 242.83,239.77 242.57,239.68 242.27,239.69 241.94,239.8 241.61,239.99 241.29,240.27 240.99,240.61 240.74,241 240.54,241.42 240.4,241.85 240.33,242.27 240.33,242.66 240.41,242.99 240.56,243.25 240.77,243.43 262.77,255.83" fill="#fff" stroke="#3a3a3a" stroke-width="0.9" stroke-linejoin="round"/>
<ellipse cx="263.8" cy="254" rx="1.22" ry="2.1" fill="#fff" stroke="#3a3a3a" stroke-width="0.9" transform="rotate(29.41 263.8 254)"/>
<line x1="243.26" y1="241.58" x2="261.96" y2="252.12" stroke="#3a3a3a" stroke-width="0.55"/>
<line x1="242.54" y1="242.86" x2="261.24" y2="253.4" stroke="#3a3a3a" stroke-width="0.55"/>
<line x1="265.5" y1="254.5" x2="281" y2="263.5" stroke="#444" stroke-width="0.75"/>
<line x1="261.9" y1="240.4" x2="261.9" y2="252" stroke="#3a3a3a" stroke-width="1.1"/>
<ellipse cx="70.3" cy="361.2" rx="3.4" ry="6" fill="#fff" stroke="#222" stroke-width="1.0" transform="rotate(-30 70.3 361.2)"/>
<ellipse cx="71.5" cy="360.5" rx="3.4" ry="6" fill="#fff" stroke="#222" stroke-width="1.6" transform="rotate(-30 71.5 360.5)"/>
<ellipse cx="71.5" cy="360.5" rx="1.4" ry="2.6" fill="#fff" stroke="#222" stroke-width="0.9" transform="rotate(-30 71.5 360.5)"/>
<line x1="70.3" y1="356.1" x2="72.7" y2="364.9" stroke="#222" stroke-width="0.8"/>
<line x1="68.5" y1="361.9" x2="74.5" y2="359.1" stroke="#222" stroke-width="0.8"/>
<line x1="73.6" y1="358.6" x2="78" y2="356" stroke="#444" stroke-width="0.75"/>
<path d="M62.52,362.45 L54.6,366.68 Q48.44,367.73 47.03,371.25 Q47.56,374.07 50.73,374.24 L54.25,372.84 L54.95,374.77 Q56.36,376.18 58.47,374.95 L59.35,371.96 L63.93,369.32 Z" fill="#fff" stroke="#3a3a3a" stroke-width="0.9" stroke-linejoin="round" stroke-linecap="round"/>
<ellipse cx="63.22" cy="365.88" rx="2.11" ry="3.52" fill="#fff" stroke="#3a3a3a" stroke-width="0.9" transform="rotate(-30 63.22 365.88)"/>
<line x1="54.6" y1="366.68" x2="55.83" y2="372.13" stroke="#3a3a3a" stroke-width="0.9"/>
<line x1="55.83" y1="372.13" x2="59.35" y2="371.96" stroke="#3a3a3a" stroke-width="0.9"/>
<path d="M48.79,370.02 L54.07,368.61" fill="none" stroke="#3a3a3a" stroke-width="0.9" stroke-linejoin="round" stroke-linecap="round"/>
<ellipse cx="49.85" cy="371.43" rx="1.32" ry="1.06" fill="none" stroke="#222" stroke-width="1.0" transform="rotate(-20 49.85 371.43)"/>
<ellipse cx="56.71" cy="374.07" rx="1.14" ry="0.97" fill="none" stroke="#222" stroke-width="1.0" transform="rotate(-20 56.71 374.07)"/>
<line x1="65" y1="364.4" x2="68" y2="362.6" stroke="#444" stroke-width="0.75"/>
<line x1="57" y1="374.4" x2="65.2" y2="377.8" stroke="#444" stroke-width="0.75"/>
<ellipse cx="66.6" cy="378.3" rx="1.26" ry="1.7" fill="#fff" stroke="#222" stroke-width="0.9" transform="rotate(30 66.6 378.3)"/>
<polyline points="79.46,384.13 71.26,379.33 71.05,379.26 70.8,379.26 70.54,379.34 70.27,379.5 70.01,379.71 69.76,379.99 69.55,380.3 69.38,380.64 69.26,380.99 69.2,381.33 69.2,381.64 69.26,381.91 69.37,382.12 69.54,382.27 77.74,387.07" fill="#fff" stroke="#3a3a3a" stroke-width="0.9" stroke-linejoin="round"/>
<ellipse cx="78.6" cy="385.6" rx="0.99" ry="1.7" fill="#fff" stroke="#3a3a3a" stroke-width="0.9" transform="rotate(30.34 78.6 385.6)"/>
<ellipse cx="78.6" cy="385.6" rx="1.7" ry="2.2" fill="#fff" stroke="#3a3a3a" stroke-width="0.9" transform="rotate(30 78.6 385.6)"/>
<polyline points="80.8,387.2 102.5,400 95,404.2 113.5,415" fill="none" stroke="#444" stroke-width="0.75" stroke-linejoin="round"/>
<polyline points="108,394.8 101.8,391.4 122.5,380 128.4,383" fill="none" stroke="#444" stroke-width="0.75" stroke-linejoin="round"/>
<polyline points="209.28,426.79 130.08,381.89 129.71,381.76 129.28,381.78 128.81,381.92 128.34,382.2 127.88,382.59 127.45,383.08 127.09,383.64 126.8,384.24 126.59,384.86 126.49,385.46 126.5,386.01 126.61,386.48 126.82,386.85 127.12,387.11 206.32,432.01" fill="#fff" stroke="#3a3a3a" stroke-width="0.9" stroke-linejoin="round"/>
<ellipse cx="207.8" cy="429.4" rx="1.74" ry="3" fill="#fff" stroke="#3a3a3a" stroke-width="0.9" transform="rotate(29.55 207.8 429.4)"/>
<line x1="203.3" y1="423.4" x2="201.4" y2="428" stroke="#3a3a3a" stroke-width="0.7"/>
<line x1="210" y1="430.2" x2="211.6" y2="431" stroke="#444" stroke-width="0.75"/>
<polyline points="119.84,397.59 111.44,392.79 110.98,392.63 110.45,392.64 109.87,392.82 109.29,393.16 108.72,393.65 108.19,394.25 107.74,394.94 107.37,395.68 107.12,396.43 107,397.17 107,397.85 107.14,398.43 107.4,398.9 107.76,399.21 116.16,404.01" fill="#fff" stroke="#3a3a3a" stroke-width="0.9" stroke-linejoin="round"/>
<path d="M112.5,401.5 L109.5,413 Q108.6,418 107,420 L100,425.5 Q97.6,428.4 98.8,430.4 Q100.6,432.4 104,431.6 L106,430.5 L111.5,425.5 Q113.2,423 113.5,420 L115,414 L115.4,418.4 Q116.6,420.6 118.6,420 Q120.8,419 120.8,416.6 L121,412 L119.4,406.4 L117,403 Z" fill="#fff" stroke="#3a3a3a" stroke-width="0.9" stroke-linejoin="round" stroke-linecap="round"/>
<path d="M116,402.4 L113,413.5 Q112.4,418 110.6,420.6 L103.6,426.6" fill="none" stroke="#3a3a3a" stroke-width="0.7" stroke-linejoin="round" stroke-linecap="round"/>
<ellipse cx="103.4" cy="428.4" rx="1.4" ry="1.8" fill="none" stroke="#3a3a3a" stroke-width="0.9" transform="rotate(30 103.4 428.4)"/>
<ellipse cx="117.6" cy="416.6" rx="1.4" ry="1.8" fill="none" stroke="#3a3a3a" stroke-width="0.9" transform="rotate(30 117.6 416.6)"/>
<polyline points="123.73,397.37 121.13,395.77 120.49,395.53 119.74,395.52 118.93,395.75 118.09,396.2 117.27,396.85 116.5,397.67 115.83,398.62 115.29,399.64 114.9,400.7 114.69,401.73 114.67,402.68 114.83,403.5 115.17,404.17 115.67,404.63 118.27,406.23" fill="#fff" stroke="#3a3a3a" stroke-width="0.9" stroke-linejoin="round"/>
<ellipse cx="121" cy="401.8" rx="3.02" ry="5.2" fill="#fff" stroke="#3a3a3a" stroke-width="0.9" transform="rotate(31.61 121 401.8)"/>
<polygon points="123.6,401.4 186.5,436 181,447.5 120,409.4" fill="#fff" stroke="#3a3a3a" stroke-width="0" stroke-linejoin="round"/>
<line x1="124" y1="401.6" x2="186.5" y2="436.2" stroke="#3a3a3a" stroke-width="0.9"/>
<line x1="120.4" y1="409.2" x2="178" y2="441.6" stroke="#3a3a3a" stroke-width="0.9"/>
<path d="M139.4,451 Q138.6,448.8 141.4,447.4 L149,443.4 L180.6,439 L185.8,435.2 L190.4,435.6 L198.4,440.2 Q200.6,444 198.6,448.6 L196,451 L194.6,456.4 L194.6,459.6 Q194.4,463 191,463 L187.6,461.6 Q184.4,458.4 184.2,453.6 L182.6,450.4 L146,454 Q141,455 139.4,451 Z" fill="#fff" stroke="#3a3a3a" stroke-width="0.9" stroke-linejoin="round" stroke-linecap="round"/>
<path d="M142,451.6 Q141.8,450 143.8,449.2 L151,446.2 L181.4,441.8" fill="none" stroke="#3a3a3a" stroke-width="0.7" stroke-linejoin="round" stroke-linecap="round"/>
<path d="M180.6,439 L182.6,450.4" fill="none" stroke="#3a3a3a" stroke-width="0.7" stroke-linejoin="round" stroke-linecap="round"/>
<path d="M186.4,434.6 L186,447.6 L184.2,453.6" fill="none" stroke="#3a3a3a" stroke-width="0.7" stroke-linejoin="round" stroke-linecap="round"/>
<path d="M186,447.6 L191,450.6 L196,451" fill="none" stroke="#3a3a3a" stroke-width="0.7" stroke-linejoin="round" stroke-linecap="round"/>
<polyline points="197.7,440.72 192.5,437.72 191.83,437.49 191.05,437.51 190.22,437.77 189.36,438.26 188.53,438.96 187.76,439.83 187.09,440.83 186.55,441.91 186.18,443.02 186,444.09 186,445.08 186.19,445.94 186.57,446.61 187.1,447.08 192.3,450.08" fill="#fff" stroke="#3a3a3a" stroke-width="0.9" stroke-linejoin="round"/>
<ellipse cx="195" cy="445.4" rx="3.13" ry="5.4" fill="#fff" stroke="#3a3a3a" stroke-width="0.9" transform="rotate(29.98 195 445.4)"/>
<ellipse cx="195" cy="445.4" rx="1.57" ry="2.7" fill="#fff" stroke="#3a3a3a" stroke-width="0.9" transform="rotate(29.98 195 445.4)"/>
<ellipse cx="190.6" cy="459.8" rx="1.3" ry="1.7" fill="none" stroke="#3a3a3a" stroke-width="0.9" transform="rotate(30 190.6 459.8)"/>
<line x1="193.4" y1="461.8" x2="210" y2="471" stroke="#444" stroke-width="0.75"/>
<path d="M85.4,416.6 L93.6,421.4 L92.4,423.8 L84.2,419 Z" fill="#fff" stroke="#3a3a3a" stroke-width="0.9" stroke-linejoin="round" stroke-linecap="round"/>
<line x1="88.4" y1="418.4" x2="87.2" y2="420.8" stroke="#3a3a3a" stroke-width="0.6"/>
<line x1="91" y1="420" x2="89.8" y2="422.4" stroke="#3a3a3a" stroke-width="0.6"/>
<polygon points="52.8,416.6 95,407.6 98.8,424 56.2,433.2" fill="none" stroke="#16983a" stroke-width="2" stroke-linejoin="round"/>
<path d="M151.6,454.4 L160,459.2 L158.8,461.6 L150.4,456.8 Z" fill="#fff" stroke="#3a3a3a" stroke-width="0.9" stroke-linejoin="round" stroke-linecap="round"/>
<line x1="154.6" y1="456.2" x2="153.4" y2="458.6" stroke="#3a3a3a" stroke-width="0.6"/>
<line x1="157.2" y1="457.8" x2="156" y2="460.2" stroke="#3a3a3a" stroke-width="0.6"/>
<polygon points="124.2,470 158.4,442.6 170,456.8 135.8,484" fill="none" stroke="#16983a" stroke-width="2" stroke-linejoin="round"/>
<path d="M223.52,462.95 L215.6,467.18 Q209.44,468.23 208.03,471.75 Q208.56,474.57 211.73,474.74 L215.25,473.34 L215.95,475.27 Q217.36,476.68 219.47,475.45 L220.35,472.46 L224.93,469.82 Z" fill="#fff" stroke="#3a3a3a" stroke-width="0.9" stroke-linejoin="round" stroke-linecap="round"/>
<ellipse cx="224.22" cy="466.38" rx="2.11" ry="3.52" fill="#fff" stroke="#3a3a3a" stroke-width="0.9" transform="rotate(-30 224.22 466.38)"/>
<line x1="215.6" y1="467.18" x2="216.83" y2="472.63" stroke="#3a3a3a" stroke-width="0.9"/>
<line x1="216.83" y1="472.63" x2="220.35" y2="472.46" stroke="#3a3a3a" stroke-width="0.9"/>
<path d="M209.79,470.52 L215.07,469.11" fill="none" stroke="#3a3a3a" stroke-width="0.9" stroke-linejoin="round" stroke-linecap="round"/>
<ellipse cx="210.85" cy="471.93" rx="1.32" ry="1.06" fill="none" stroke="#222" stroke-width="1.0" transform="rotate(-20 210.85 471.93)"/>
<ellipse cx="217.71" cy="474.57" rx="1.14" ry="0.97" fill="none" stroke="#222" stroke-width="1.0" transform="rotate(-20 217.71 474.57)"/>
<ellipse cx="234.6" cy="460.7" rx="3.4" ry="6" fill="#fff" stroke="#222" stroke-width="1.0" transform="rotate(-30 234.6 460.7)"/>
<ellipse cx="235.8" cy="460" rx="3.4" ry="6" fill="#fff" stroke="#222" stroke-width="1.6" transform="rotate(-30 235.8 460)"/>
<ellipse cx="235.8" cy="460" rx="1.4" ry="2.6" fill="#fff" stroke="#222" stroke-width="0.9" transform="rotate(-30 235.8 460)"/>
<line x1="234.6" y1="455.6" x2="237" y2="464.4" stroke="#222" stroke-width="0.8"/>
<line x1="232.8" y1="461.4" x2="238.8" y2="458.6" stroke="#222" stroke-width="0.8"/>
<line x1="238.8" y1="457.8" x2="246" y2="454" stroke="#444" stroke-width="0.75"/>
<line x1="224" y1="466" x2="232.6" y2="461.6" stroke="#444" stroke-width="0.75"/>
<line x1="214" y1="475.6" x2="227.4" y2="481.6" stroke="#444" stroke-width="0.75"/>
<ellipse cx="228.7" cy="482" rx="1.26" ry="1.7" fill="#fff" stroke="#222" stroke-width="0.9" transform="rotate(30 228.7 482)"/>
<polyline points="241.74,486.55 233.34,481.75 233.11,481.67 232.83,481.68 232.54,481.77 232.24,481.94 231.95,482.19 231.68,482.5 231.44,482.85 231.26,483.23 231.13,483.62 231.06,484 231.07,484.35 231.14,484.65 231.27,484.89 231.46,485.05 239.86,489.85" fill="#fff" stroke="#3a3a3a" stroke-width="0.9" stroke-linejoin="round"/>
<ellipse cx="240.8" cy="488.2" rx="1.1" ry="1.9" fill="#fff" stroke="#3a3a3a" stroke-width="0.9" transform="rotate(29.74 240.8 488.2)"/>
<line x1="235.4" y1="483" x2="233.6" y2="486.2" stroke="#222" stroke-width="0.8"/>
<line x1="237.08" y1="483.96" x2="235.28" y2="487.16" stroke="#222" stroke-width="0.8"/>
<line x1="238.76" y1="484.92" x2="236.96" y2="488.12" stroke="#222" stroke-width="0.8"/>
<line x1="242" y1="489" x2="244.6" y2="490.4" stroke="#444" stroke-width="0.75"/>
<line x1="103" y1="175.8" x2="145.6" y2="153.8" stroke="#444" stroke-width="0.75"/>
<line x1="118" y1="183.8" x2="155" y2="165" stroke="#444" stroke-width="0.75"/>
<line x1="135" y1="191" x2="164.6" y2="172.6" stroke="#444" stroke-width="0.75"/>
<line x1="151" y1="198.8" x2="177.4" y2="181.2" stroke="#444" stroke-width="0.75"/>
<line x1="172.5" y1="212.5" x2="203" y2="197.4" stroke="#444" stroke-width="0.75"/>
<line x1="191" y1="221" x2="217.6" y2="203.8" stroke="#444" stroke-width="0.75"/>
<line x1="205" y1="226" x2="228.6" y2="210" stroke="#444" stroke-width="0.75"/>
<line x1="215" y1="238.8" x2="226" y2="228.8" stroke="#444" stroke-width="0.75"/>
<line x1="236" y1="252.6" x2="247.5" y2="245.2" stroke="#444" stroke-width="0.75"/>
<line x1="267.5" y1="240" x2="262.4" y2="243.8" stroke="#444" stroke-width="0.75"/>
<line x1="153" y1="254.6" x2="183.2" y2="254.6" stroke="#444" stroke-width="0.75"/>
<line x1="133.3" y1="283.3" x2="185" y2="314" stroke="#444" stroke-width="0.75"/>
<line x1="98.8" y1="304.2" x2="126" y2="320" stroke="#444" stroke-width="0.75"/>
<line x1="76" y1="317.5" x2="122.4" y2="345.6" stroke="#444" stroke-width="0.75"/>
<line x1="58.8" y1="329.4" x2="68" y2="354.6" stroke="#444" stroke-width="0.75"/>
<line x1="41" y1="341.6" x2="50.4" y2="364" stroke="#444" stroke-width="0.75"/>
<line x1="55.8" y1="385.8" x2="65" y2="380" stroke="#444" stroke-width="0.75"/>
<line x1="65" y1="392.8" x2="73.4" y2="385.8" stroke="#444" stroke-width="0.75"/>
<line x1="73.3" y1="423.7" x2="84" y2="420.8" stroke="#444" stroke-width="0.75"/>
<line x1="90" y1="430.8" x2="99" y2="429" stroke="#444" stroke-width="0.75"/>
<line x1="115.8" y1="447.5" x2="173.6" y2="409.6" stroke="#444" stroke-width="0.75"/>
<line x1="145" y1="465" x2="151.8" y2="458.4" stroke="#444" stroke-width="0.75"/>
<line x1="186.7" y1="486.7" x2="210" y2="472.5" stroke="#444" stroke-width="0.75"/>
<line x1="212.5" y1="493.3" x2="227.5" y2="483.4" stroke="#444" stroke-width="0.75"/>
<line x1="230.8" y1="498.3" x2="238.3" y2="489" stroke="#444" stroke-width="0.75"/>
<line x1="258.3" y1="473.3" x2="244" y2="465" stroke="#444" stroke-width="0.75"/>
<line x1="337.5" y1="428.8" x2="318.8" y2="417.5" stroke="#444" stroke-width="0.75"/>
<line x1="400" y1="350.8" x2="413.3" y2="342.5" stroke="#444" stroke-width="0.75"/>
<line x1="425.8" y1="365.8" x2="438.3" y2="357.5" stroke="#444" stroke-width="0.75"/>
<line x1="424.5" y1="382" x2="415" y2="383.4" stroke="#444" stroke-width="0.75"/>
<line x1="462" y1="353" x2="454.2" y2="356.6" stroke="#444" stroke-width="0.75"/>
<line x1="337" y1="191.7" x2="329.7" y2="202.4" stroke="#444" stroke-width="0.75"/>
<line x1="350.8" y1="200.8" x2="342.5" y2="207.5" stroke="#444" stroke-width="0.75"/>
<line x1="362" y1="208" x2="350.8" y2="214" stroke="#444" stroke-width="0.75"/>
<line x1="413.3" y1="236" x2="408" y2="247.4" stroke="#444" stroke-width="0.75"/>
<line x1="430" y1="245" x2="421.7" y2="251.7" stroke="#444" stroke-width="0.75"/>
<line x1="440.8" y1="252.5" x2="430" y2="260" stroke="#444" stroke-width="0.75"/>
<line x1="471.7" y1="260.8" x2="465.2" y2="270.6" stroke="#444" stroke-width="0.75"/>
<line x1="485.8" y1="265.8" x2="470.8" y2="279" stroke="#444" stroke-width="0.75"/>
<line x1="502.5" y1="270" x2="475.8" y2="285" stroke="#444" stroke-width="0.75"/>
<line x1="502.5" y1="281.7" x2="488.3" y2="290" stroke="#444" stroke-width="0.75"/>
<line x1="516.7" y1="287.5" x2="500.8" y2="298.3" stroke="#444" stroke-width="0.75"/>
<line x1="530" y1="296.7" x2="515" y2="306.7" stroke="#444" stroke-width="0.75"/>
<line x1="543.3" y1="304" x2="531.7" y2="318.3" stroke="#444" stroke-width="0.75"/>
<line x1="561.7" y1="307.5" x2="538.3" y2="320.8" stroke="#444" stroke-width="0.75"/>
<line x1="559" y1="316.7" x2="545" y2="319" stroke="#444" stroke-width="0.75"/>
<line x1="550" y1="345.8" x2="540.8" y2="332.5" stroke="#444" stroke-width="0.75"/>
<line x1="524.5" y1="359" x2="524.5" y2="340" stroke="#444" stroke-width="0.75"/>
<line x1="508.3" y1="350.8" x2="516.7" y2="339" stroke="#444" stroke-width="0.75"/>
<line x1="493" y1="343" x2="506.5" y2="334.5" stroke="#444" stroke-width="0.75"/>
<line x1="475" y1="332.5" x2="490" y2="323" stroke="#444" stroke-width="0.75"/>
<line x1="460" y1="324" x2="473.3" y2="315.8" stroke="#444" stroke-width="0.75"/>
<line x1="447.5" y1="315.8" x2="461.7" y2="308.3" stroke="#444" stroke-width="0.75"/>
<line x1="440" y1="306.7" x2="449" y2="300.8" stroke="#444" stroke-width="0.75"/>
<line x1="437.5" y1="276.7" x2="450.8" y2="278.3" stroke="#444" stroke-width="0.75"/>
<text x="88.8" y="182.6" font-size="12.6" textLength="13.6" lengthAdjust="spacingAndGlyphs" fill="#262626" stroke="#262626" stroke-width="0.25">216</text>
<text x="104.5" y="190.8" font-size="12.6" textLength="13.6" lengthAdjust="spacingAndGlyphs" fill="#262626" stroke="#262626" stroke-width="0.25">226</text>
<text x="120.5" y="200" font-size="12.6" textLength="13.6" lengthAdjust="spacingAndGlyphs" fill="#262626" stroke="#262626" stroke-width="0.25">217</text>
<text x="136.3" y="207.6" font-size="12.6" textLength="13.6" lengthAdjust="spacingAndGlyphs" fill="#262626" stroke="#262626" stroke-width="0.25">218</text>
<text x="158.8" y="220.8" font-size="12.6" textLength="13.6" lengthAdjust="spacingAndGlyphs" fill="#262626" stroke="#262626" stroke-width="0.25">225</text>
<text x="176" y="228" font-size="12.6" textLength="13.6" lengthAdjust="spacingAndGlyphs" fill="#262626" stroke="#262626" stroke-width="0.25">218</text>
<text x="191" y="235.2" font-size="12.6" textLength="13.6" lengthAdjust="spacingAndGlyphs" fill="#262626" stroke="#262626" stroke-width="0.25">217</text>
<text x="202.5" y="248" font-size="12.6" textLength="13.6" lengthAdjust="spacingAndGlyphs" fill="#262626" stroke="#262626" stroke-width="0.25">224</text>
<text x="222.5" y="261" font-size="12.6" textLength="13.6" lengthAdjust="spacingAndGlyphs" fill="#262626" stroke="#262626" stroke-width="0.25">213</text>
<text x="267.5" y="240" font-size="12.6" textLength="13.6" lengthAdjust="spacingAndGlyphs" fill="#262626" stroke="#262626" stroke-width="0.25">214</text>
<text x="140" y="258.7" font-size="12.6" textLength="13.6" lengthAdjust="spacingAndGlyphs" fill="#262626" stroke="#262626" stroke-width="0.25">211</text>
<text x="120.8" y="283.7" font-size="12.6" textLength="13.6" lengthAdjust="spacingAndGlyphs" fill="#262626" stroke="#262626" stroke-width="0.25">201</text>
<text x="85.5" y="304" font-size="12.6" textLength="13.6" lengthAdjust="spacingAndGlyphs" fill="#262626" stroke="#262626" stroke-width="0.25">210</text>
<text x="137" y="303" font-size="12.6" textLength="13.6" lengthAdjust="spacingAndGlyphs" fill="#262626" stroke="#262626" stroke-width="0.25">206</text>
<text x="62.8" y="317.5" font-size="12.6" textLength="13.6" lengthAdjust="spacingAndGlyphs" fill="#262626" stroke="#262626" stroke-width="0.25">202</text>
<text x="50" y="329.5" font-size="12.6" textLength="13.6" lengthAdjust="spacingAndGlyphs" fill="#262626" stroke="#262626" stroke-width="0.25">227</text>
<text x="31.7" y="341" font-size="12.6" textLength="13.6" lengthAdjust="spacingAndGlyphs" fill="#262626" stroke="#262626" stroke-width="0.25">207</text>
<text x="41" y="390.3" font-size="12.6" textLength="13.6" lengthAdjust="spacingAndGlyphs" fill="#262626" stroke="#262626" stroke-width="0.25">208</text>
<text x="55.8" y="400.8" font-size="12.6" textLength="13.6" lengthAdjust="spacingAndGlyphs" fill="#262626" stroke="#262626" stroke-width="0.25">209</text>
<text x="57.5" y="426.7" font-size="12.6" textLength="13.6" lengthAdjust="spacingAndGlyphs" fill="#262626" stroke="#262626" stroke-width="0.25">203</text>
<text x="74" y="438.7" font-size="12.6" textLength="13.6" lengthAdjust="spacingAndGlyphs" fill="#262626" stroke="#262626" stroke-width="0.25">204</text>
<text x="105" y="455.8" font-size="12.6" textLength="13.6" lengthAdjust="spacingAndGlyphs" fill="#262626" stroke="#262626" stroke-width="0.25">205</text>
<text x="133" y="472.5" font-size="12.6" textLength="13.6" lengthAdjust="spacingAndGlyphs" fill="#262626" stroke="#262626" stroke-width="0.25">203</text>
<text x="175.8" y="495.8" font-size="12.6" textLength="13.6" lengthAdjust="spacingAndGlyphs" fill="#262626" stroke="#262626" stroke-width="0.25">207</text>
<text x="199" y="501.7" font-size="12.6" textLength="13.6" lengthAdjust="spacingAndGlyphs" fill="#262626" stroke="#262626" stroke-width="0.25">208</text>
<text x="221.7" y="507" font-size="12.6" textLength="13.6" lengthAdjust="spacingAndGlyphs" fill="#262626" stroke="#262626" stroke-width="0.25">209</text>
<text x="262" y="484" font-size="12.6" textLength="13.6" lengthAdjust="spacingAndGlyphs" fill="#262626" stroke="#262626" stroke-width="0.25">227</text>
<text x="244" y="354" font-size="12.6" textLength="13.6" lengthAdjust="spacingAndGlyphs" fill="#262626" stroke="#262626" stroke-width="0.25">206</text>
<text x="337.5" y="436.3" font-size="12.6" textLength="13.6" lengthAdjust="spacingAndGlyphs" fill="#262626" stroke="#262626" stroke-width="0.25">210</text>
<text x="387" y="358.5" font-size="12.6" textLength="13.6" lengthAdjust="spacingAndGlyphs" fill="#262626" stroke="#262626" stroke-width="0.25">212</text>
<text x="411.7" y="372.8" font-size="12.6" textLength="13.6" lengthAdjust="spacingAndGlyphs" fill="#262626" stroke="#262626" stroke-width="0.25">213</text>
<text x="425" y="385.8" font-size="12.6" textLength="13.6" lengthAdjust="spacingAndGlyphs" fill="#262626" stroke="#262626" stroke-width="0.25">211</text>
<text x="462.5" y="356.7" font-size="12.6" textLength="13.6" lengthAdjust="spacingAndGlyphs" fill="#262626" stroke="#262626" stroke-width="0.25">214</text>
<text x="330" y="191.3" font-size="12.6" textLength="13.6" lengthAdjust="spacingAndGlyphs" fill="#262626" stroke="#262626" stroke-width="0.25">223</text>
<text x="347" y="200.8" font-size="12.6" textLength="13.6" lengthAdjust="spacingAndGlyphs" fill="#262626" stroke="#262626" stroke-width="0.25">222</text>
<text x="362.5" y="211.2" font-size="12.6" textLength="13.6" lengthAdjust="spacingAndGlyphs" fill="#262626" stroke="#262626" stroke-width="0.25">221</text>
<text x="407.5" y="235.8" font-size="12.6" textLength="13.6" lengthAdjust="spacingAndGlyphs" fill="#262626" stroke="#262626" stroke-width="0.25">223</text>
<text x="425" y="245" font-size="12.6" textLength="13.6" lengthAdjust="spacingAndGlyphs" fill="#262626" stroke="#262626" stroke-width="0.25">222</text>
<text x="440.8" y="254" font-size="12.6" textLength="13.6" lengthAdjust="spacingAndGlyphs" fill="#262626" stroke="#262626" stroke-width="0.25">221</text>
<text x="464" y="260.5" font-size="12.6" textLength="13.6" lengthAdjust="spacingAndGlyphs" fill="#262626" stroke="#262626" stroke-width="0.25">216</text>
<text x="482.5" y="265.3" font-size="12.6" textLength="13.6" lengthAdjust="spacingAndGlyphs" fill="#262626" stroke="#262626" stroke-width="0.25">215</text>
<text x="498.3" y="269" font-size="12.6" textLength="13.6" lengthAdjust="spacingAndGlyphs" fill="#262626" stroke="#262626" stroke-width="0.25">217</text>
<text x="497.5" y="281.7" font-size="12.6" textLength="13.6" lengthAdjust="spacingAndGlyphs" fill="#262626" stroke="#262626" stroke-width="0.25">220</text>
<text x="514" y="287" font-size="12.6" textLength="13.6" lengthAdjust="spacingAndGlyphs" fill="#262626" stroke="#262626" stroke-width="0.25">218</text>
<text x="527.5" y="296" font-size="12.6" textLength="13.6" lengthAdjust="spacingAndGlyphs" fill="#262626" stroke="#262626" stroke-width="0.25">219</text>
<text x="541.3" y="304" font-size="12.6" textLength="13.6" lengthAdjust="spacingAndGlyphs" fill="#262626" stroke="#262626" stroke-width="0.25">218</text>
<text x="556.3" y="307.7" font-size="12.6" textLength="13.6" lengthAdjust="spacingAndGlyphs" fill="#262626" stroke="#262626" stroke-width="0.25">217</text>
<text x="560" y="320" font-size="12.6" textLength="13.6" lengthAdjust="spacingAndGlyphs" fill="#262626" stroke="#262626" stroke-width="0.25">216</text>
<text x="545.8" y="353.3" font-size="12.6" textLength="13.6" lengthAdjust="spacingAndGlyphs" fill="#262626" stroke="#262626" stroke-width="0.25">215</text>
<text x="520" y="366.7" font-size="12.6" textLength="13.6" lengthAdjust="spacingAndGlyphs" fill="#262626" stroke="#262626" stroke-width="0.25">216</text>
<text x="495" y="358.3" font-size="12.6" textLength="13.6" lengthAdjust="spacingAndGlyphs" fill="#262626" stroke="#262626" stroke-width="0.25">217</text>
<text x="481.5" y="350" font-size="12.6" textLength="13.6" lengthAdjust="spacingAndGlyphs" fill="#262626" stroke="#262626" stroke-width="0.25">218</text>
<text x="467.5" y="340.5" font-size="12.6" textLength="13.6" lengthAdjust="spacingAndGlyphs" fill="#262626" stroke="#262626" stroke-width="0.25">219</text>
<text x="454" y="331.7" font-size="12.6" textLength="13.6" lengthAdjust="spacingAndGlyphs" fill="#262626" stroke="#262626" stroke-width="0.25">218</text>
<text x="440.3" y="323.3" font-size="12.6" textLength="13.6" lengthAdjust="spacingAndGlyphs" fill="#262626" stroke="#262626" stroke-width="0.25">220</text>
<text x="427.5" y="313.3" font-size="12.6" textLength="13.6" lengthAdjust="spacingAndGlyphs" fill="#262626" stroke="#262626" stroke-width="0.25">217</text>
<text x="423" y="280" font-size="12.6" textLength="13.6" lengthAdjust="spacingAndGlyphs" fill="#262626" stroke="#262626" stroke-width="0.25">217</text>
</svg>
</body></html>
